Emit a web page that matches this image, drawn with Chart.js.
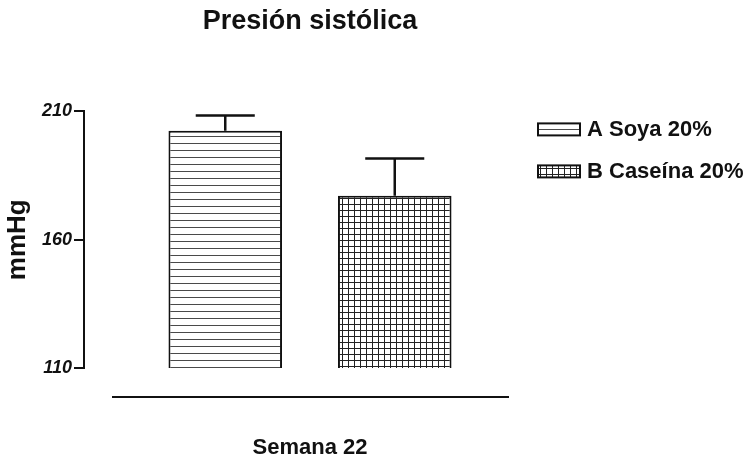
<!DOCTYPE html>
<html>
<head>
<meta charset="utf-8">
<script src="https://cdn.jsdelivr.net/npm/chart.js@4.4.1/dist/chart.umd.min.js"></script>
<style>
  html, body { margin: 0; padding: 0; background: #ffffff; }
  #wrap { width: 754px; height: 459px; }
</style>
</head>
<body>
<div id="wrap"><canvas id="chart" width="754" height="459"></canvas></div>
<script>
// Systolic pressure at week 22, mean with upper SEM
const categories = ['Semana 22'];
const seriesNames = ['A Soya 20%', 'B Caseína 20%'];
const soyaValues = [202.5];
const caseinaValues = [177.1];
const soyaErrors = [5.9];
const caseinaErrors = [14.5];
const yTickValues = [110, 160, 210];

const FONT = '"Liberation Sans", Arial, Helvetica, sans-serif';
const INK = '#111111';

// Fill patterns: horizontal stripes and a fine grid
function stripePattern() {
  const c = document.createElement('canvas');
  c.width = 7; c.height = 7;
  const g = c.getContext('2d');
  g.fillStyle = '#ffffff';
  g.fillRect(0, 0, 7, 7);
  g.fillStyle = '#4a4a4a';
  g.fillRect(0, 3, 7, 1);
  return g.createPattern(c, 'repeat');
}
function gridPattern() {
  const c = document.createElement('canvas');
  c.width = 6; c.height = 6;
  const g = c.getContext('2d');
  g.fillStyle = '#ffffff';
  g.fillRect(0, 0, 6, 6);
  g.fillStyle = '#222222';
  g.fillRect(0, 0, 6, 1);
  g.fillRect(0, 0, 1, 6);
  return g.createPattern(c, 'repeat');
}

const errorSets = [soyaErrors, caseinaErrors];

// Upper error bars with caps
const errorBars = {
  id: 'errorBars',
  afterDatasetsDraw(chart) {
    const ctx = chart.ctx;
    const y = chart.scales.y;
    ctx.save();
    ctx.strokeStyle = INK;
    ctx.lineWidth = 2.5;
    chart.data.datasets.forEach((ds, i) => {
      const meta = chart.getDatasetMeta(i);
      meta.data.forEach((bar, j) => {
        const v = ds.data[j];
        const top = y.getPixelForValue(v + errorSets[i][j]);
        const half = bar.width * 0.26;
        ctx.beginPath();
        ctx.moveTo(bar.x, bar.y);
        ctx.lineTo(bar.x, top);
        ctx.moveTo(bar.x - half, top);
        ctx.lineTo(bar.x + half, top);
        ctx.stroke();
      });
    });
    ctx.restore();
  }
};

// Baseline rule under the bars and the side legend
const decorations = {
  id: 'decorations',
  afterDraw(chart) {
    const ctx = chart.ctx;
    const a = chart.chartArea;
    ctx.save();
    ctx.strokeStyle = INK;
    ctx.lineWidth = 2;
    ctx.beginPath();
    ctx.moveTo(a.left + 28, a.bottom + 29);
    ctx.lineTo(a.right - 27, a.bottom + 29);
    ctx.stroke();

    ctx.font = 'bold 22px ' + FONT;
    ctx.textBaseline = 'middle';
    ctx.textAlign = 'left';
    chart.data.datasets.forEach((ds, i) => {
      const cy = a.top + 18 + i * 42;
      const bx = a.right + 2;
      ctx.fillStyle = ds.backgroundColor;
      ctx.fillRect(bx, cy - 6, 42, 12);
      ctx.lineWidth = 2;
      ctx.strokeStyle = INK;
      ctx.strokeRect(bx, cy - 6, 42, 12);
      ctx.fillStyle = INK;
      ctx.fillText(ds.label, bx + 49, cy + 1);
    });
    ctx.restore();
  }
};

new Chart(document.getElementById('chart'), {
  type: 'bar',
  data: {
    labels: categories,
    datasets: [
      {
        label: seriesNames[0],
        data: soyaValues,
        backgroundColor: stripePattern(),
        borderColor: INK,
        borderWidth: 2,
        borderSkipped: false
      },
      {
        label: seriesNames[1],
        data: caseinaValues,
        backgroundColor: gridPattern(),
        borderColor: INK,
        borderWidth: 2,
        borderSkipped: false
      }
    ]
  },
  options: {
    responsive: false,
    animation: false,
    devicePixelRatio: 1,
    categoryPercentage: 0.75,
    barPercentage: 0.67,
    layout: { padding: { left: 0, right: 218, top: 0, bottom: 0 } },
    plugins: {
      legend: { display: false },
      tooltip: { enabled: false },
      title: {
        display: true,
        text: 'Presión sistólica',
        fullSize: false,
        color: INK,
        font: { family: FONT, size: 27, weight: 'bold', lineHeight: 1.2 },
        padding: { top: 5, bottom: 74 }
      }
    },
    scales: {
      x: {
        grid: { display: false },
        border: { display: false },
        ticks: { display: false },
        title: {
          display: true,
          text: categories[0],
          color: INK,
          padding: { top: 61, bottom: 0 },
          font: { family: FONT, size: 22, weight: 'bold', lineHeight: 1 }
        }
      },
      y: {
        min: 110,
        max: 210,
        afterBuildTicks(scale) {
          scale.ticks = yTickValues.map(v => ({ value: v }));
        },
        afterFit(scale) { scale.width = 84; },
        grid: {
          drawOnChartArea: false,
          drawTicks: true,
          tickLength: 10,
          color: INK,
          lineWidth: 2
        },
        border: { display: true, color: INK, width: 2 },
        ticks: {
          color: INK,
          padding: 2,
          font: { family: FONT, size: 18, weight: 'bold', style: 'italic' }
        },
        title: {
          display: true,
          text: 'mmHg',
          color: INK,
          padding: { top: 2, bottom: 0 },
          font: { family: FONT, size: 26, weight: 'bold' }
        }
      }
    }
  },
  plugins: [errorBars, decorations]
});
</script>
</body>
</html>
